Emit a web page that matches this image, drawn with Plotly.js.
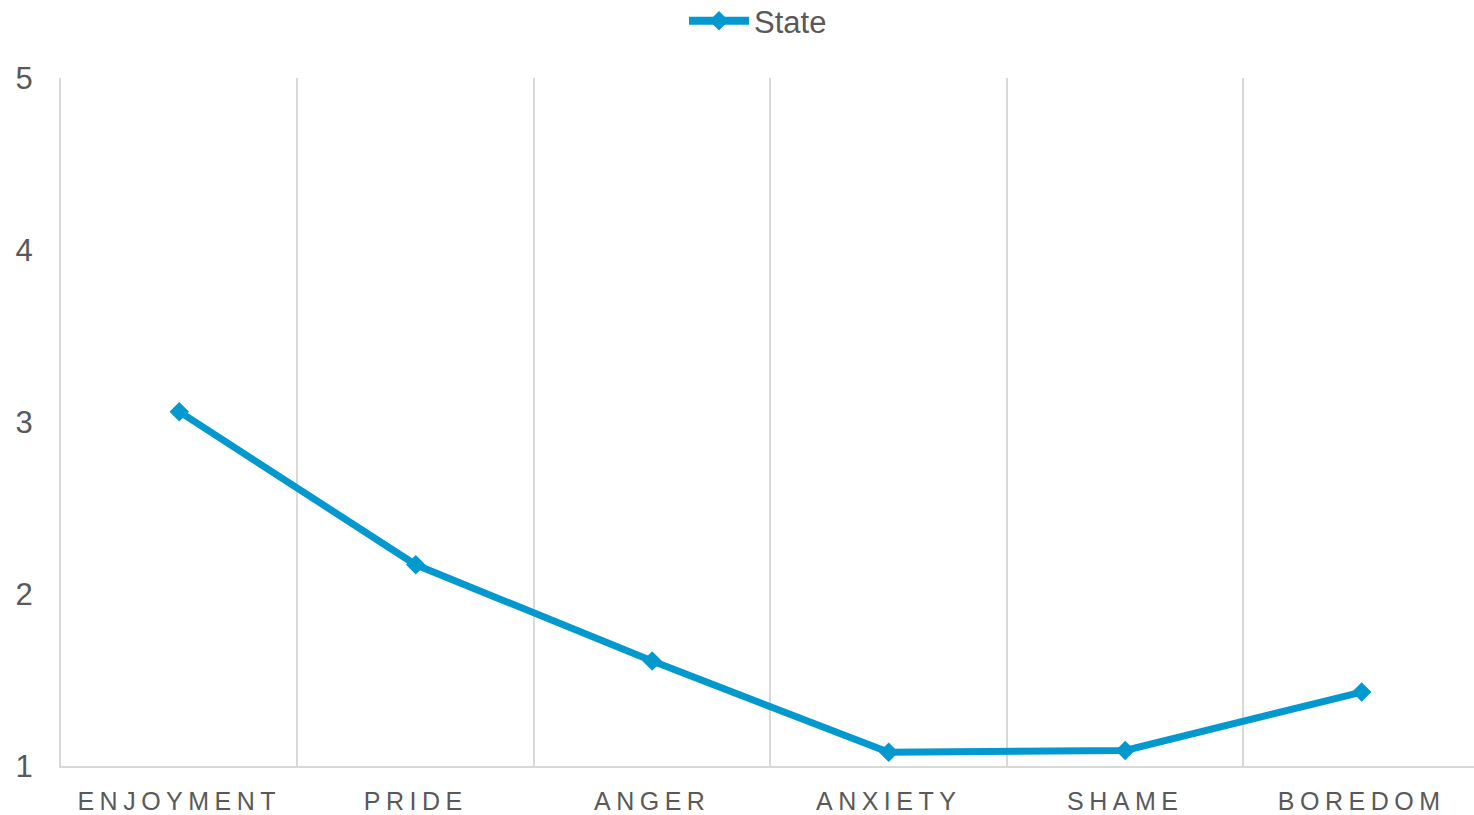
<!DOCTYPE html>
<html>
<head>
<meta charset="utf-8">
<script src="https://cdn.plot.ly/plotly-3.0.1.min.js"></script>
<style>
html, body { margin: 0; padding: 0; background: #fff; }
#chart { width: 1474px; height: 815px; }
.xtick text { letter-spacing: 5.5px; }
</style>
</head>
<body>
<div id="chart"></div>
<script>
const categories = ["ENJOYMENT", "PRIDE", "ANGER", "ANXIETY", "SHAME", "BOREDOM"];
const stateValues = [3.06, 2.17, 1.61, 1.08, 1.09, 1.43];
const yTicks = [1, 2, 3, 4, 5];
const seriesName = "State";

const trace = {
  x: categories,
  y: stateValues,
  name: seriesName,
  type: "scatter",
  mode: "lines+markers",
  line: { color: "#0399CF", width: 7 },
  marker: { symbol: "diamond", size: 15, color: "#0399CF" },
  showlegend: true
};

const layout = {
  width: 1474,
  height: 815,
  margin: { l: 61, r: 0, t: 78, b: 49 },
  paper_bgcolor: "#ffffff",
  plot_bgcolor: "#ffffff",
  font: { family: "Liberation Sans, Arial, sans-serif", color: "#595959", size: 26 },
  showlegend: true,
  legend: {
    orientation: "h",
    x: 684 / 1474, xref: "container", xanchor: "left",
    y: 1 - 21 / 815, yref: "container", yanchor: "middle",
    font: { size: 31, color: "#595959" },
    itemwidth: 60,
    bgcolor: "rgba(0,0,0,0)"
  },
  xaxis: {
    type: "category",
    range: [-0.5, 5.475],
    tickson: "boundaries",
    showgrid: true,
    gridcolor: "#d9d9d9",
    gridwidth: 2,
    showline: true,
    linecolor: "#d9d9d9",
    linewidth: 2,
    ticks: "",
    tickfont: { size: 25, color: "#595959" },
    ticklabelstandoff: 12,
    zeroline: false,
    fixedrange: true
  },
  yaxis: {
    range: [1, 5],
    tickmode: "array",
    tickvals: yTicks,
    ticktext: yTicks.map(String),
    showgrid: false,
    zeroline: false,
    showline: true,
    linecolor: "#d9d9d9",
    linewidth: 2,
    ticks: "",
    tickfont: { size: 31, color: "#595959" },
    ticklabelstandoff: 20,
    fixedrange: true
  }
};

Plotly.newPlot("chart", [trace], layout, { displayModeBar: false, staticPlot: true }).then(function (gd) {
  // lengthen the legend line sample to match the reference style
  gd.querySelectorAll(".legendlines path").forEach(function (p) {
    p.setAttribute("d", "M5,0h60");
    p.style.strokeWidth = "8px";
  });
  gd.querySelectorAll(".legendpoints path").forEach(function (p) {
    p.setAttribute("transform", "translate(35,0)");
  });
});
</script>
</body>
</html>
